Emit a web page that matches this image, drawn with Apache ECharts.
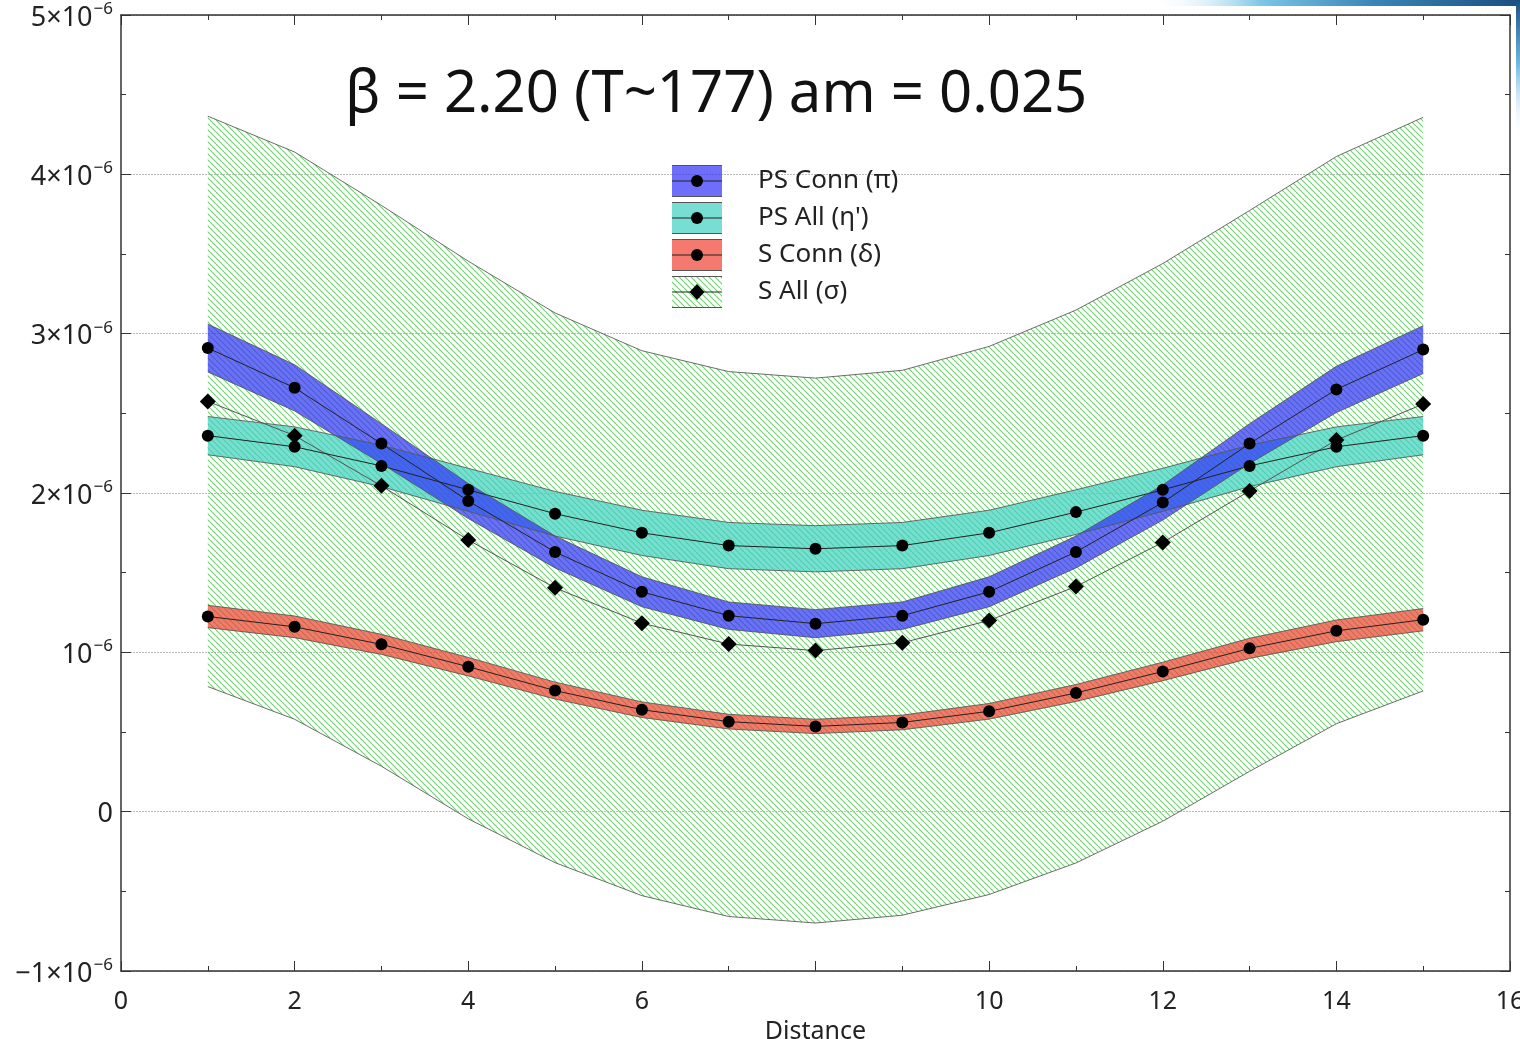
<!DOCTYPE html>
<html>
<head>
<meta charset="utf-8">
<script src="https://cdn.jsdelivr.net/npm/echarts@6/dist/echarts.min.js"></script>
<style>
  html, body { margin: 0; padding: 0; background: #fff; }
  #chart { width: 1520px; height: 1039px; }
</style>
</head>
<body>
<div id="chart"></div>
<script>
// Correlators vs. distance; y values in units of 10^-6
const distance = [1, 2, 3, 4, 5, 6, 7, 8, 9, 10, 11, 12, 13, 14, 15];

const psConn    = [2.91, 2.66, 2.31, 1.95, 1.63, 1.38, 1.23, 1.18, 1.23, 1.38, 1.63, 1.94, 2.31, 2.65, 2.90];
const psConnErr = [0.15, 0.145, 0.125, 0.11, 0.10, 0.094, 0.086, 0.088, 0.086, 0.094, 0.10, 0.11, 0.125, 0.145, 0.15];

const psAll     = [2.36, 2.29, 2.17, 2.02, 1.87, 1.75, 1.67, 1.65, 1.67, 1.75, 1.88, 2.02, 2.17, 2.29, 2.36];
const psAllErr  = [0.12, 0.125, 0.13, 0.135, 0.14, 0.142, 0.145, 0.145, 0.145, 0.142, 0.14, 0.135, 0.13, 0.125, 0.12];

const sConn     = [1.225, 1.16, 1.05, 0.91, 0.76, 0.64, 0.565, 0.535, 0.56, 0.63, 0.745, 0.88, 1.025, 1.135, 1.205];
const sConnErr  = [0.07, 0.068, 0.063, 0.058, 0.053, 0.049, 0.046, 0.045, 0.046, 0.049, 0.053, 0.058, 0.063, 0.068, 0.07];

const sAll      = [2.575, 2.36, 2.045, 1.705, 1.405, 1.183, 1.052, 1.011, 1.06, 1.2, 1.413, 1.69, 2.013, 2.332, 2.558];
const sAllErr   = [1.79, 1.78, 1.76, 1.75, 1.725, 1.71, 1.71, 1.71, 1.71, 1.72, 1.735, 1.75, 1.76, 1.78, 1.80];

const legendNames = ['PS Conn (\u03c0)', "PS All (\u03b7')", 'S Conn (\u03b4)', 'S All (\u03c3)'];
const xTicks = [0, 2, 4, 6, 10, 12, 14, 16];
const titleText = '\u03b2 = 2.20 (T~177) am = 0.025';

const FONT = '"Noto Sans", Lato, sans-serif';
const BLUE = 'rgba(48,48,248,0.7)';
const CYAN = 'rgba(62,208,194,0.7)';
const RED  = 'rgba(240,64,48,0.7)';

// diagonal green hatch tile
function hatchCanvas() {
  const s = 6;
  const c = document.createElement('canvas');
  c.width = s; c.height = s;
  const g = c.getContext('2d');
  g.strokeStyle = '#6cd06c';
  g.lineWidth = 1.05;
  for (const k of [-s, 0, s]) {
    g.beginPath();
    g.moveTo(k, 0);
    g.lineTo(k + s, s);
    g.stroke();
  }
  return c;
}
const hatch = hatchCanvas();
const hatchFill = { image: hatch, repeat: 'repeat' };

// legend key: band swatch with edge lines, centre line and marker
function swatch(fill, marker) {
  const w = 50, h = 32;
  const c = document.createElement('canvas');
  c.width = w; c.height = h;
  const g = c.getContext('2d');
  g.fillStyle = fill === 'hatch' ? g.createPattern(hatch, 'repeat') : fill;
  g.fillRect(0, 0, w, h);
  g.strokeStyle = '#555';
  g.lineWidth = 1;
  g.beginPath(); g.moveTo(0, 0.5); g.lineTo(w, 0.5); g.stroke();
  g.beginPath(); g.moveTo(0, h - 0.5); g.lineTo(w, h - 0.5); g.stroke();
  g.strokeStyle = '#222';
  g.beginPath(); g.moveTo(0, h / 2); g.lineTo(w, h / 2); g.stroke();
  g.fillStyle = '#000';
  g.beginPath();
  if (marker === 'diamond') {
    g.moveTo(w / 2, h / 2 - 8); g.lineTo(w / 2 + 7.5, h / 2);
    g.lineTo(w / 2, h / 2 + 8); g.lineTo(w / 2 - 7.5, h / 2);
    g.closePath();
  } else {
    g.arc(w / 2, h / 2, 6, 0, Math.PI * 2);
  }
  g.fill();
  return 'image://' + c.toDataURL();
}

const lower = (v, e) => v.map((y, i) => y - e[i]);
const upper = (v, e) => v.map((y, i) => y + e[i]);
const pairs = v => distance.map((x, i) => [x, v[i]]);

function bandFill(lo, hi, fill) {
  return {
    type: 'custom',
    silent: true,
    data: distance.map((x, i) => [x, lo[i], hi[i]]),
    encode: { x: 0, y: [1, 2] },
    renderItem: function (params, api) {
      if (params.dataIndex !== 0) return null;
      const pts = [];
      for (let i = 0; i < distance.length; i++) pts.push(api.coord([distance[i], hi[i]]));
      for (let i = distance.length - 1; i >= 0; i--) pts.push(api.coord([distance[i], lo[i]]));
      return { type: 'polygon', shape: { points: pts }, style: { fill: fill } };
    }
  };
}

function edgeLine(v) {
  return {
    type: 'line', silent: true, symbol: 'none', data: pairs(v),
    lineStyle: { color: '#555', width: 1, opacity: 0.85 }
  };
}

function centreLine(name, v, symbol, size, lineColor) {
  return {
    type: 'line', name: name, silent: true, data: pairs(v),
    symbol: symbol, symbolSize: size, showSymbol: true,
    itemStyle: { color: '#000', borderWidth: 0 },
    lineStyle: { color: lineColor, width: 1 }
  };
}

function band(name, v, e, fill, symbol, size, lineColor) {
  const lo = lower(v, e), hi = upper(v, e);
  return [
    bandFill(lo, hi, fill),
    edgeLine(lo),
    edgeLine(hi),
    centreLine(name, v, symbol, size, lineColor)
  ];
}

const series = [].concat(
  band(legendNames[3], sAll, sAllErr, hatchFill, 'diamond', 16, '#555'),
  band(legendNames[2], sConn, sConnErr, RED, 'circle', 12, '#222'),
  band(legendNames[1], psAll, psAllErr, CYAN, 'circle', 12, '#222'),
  band(legendNames[0], psConn, psConnErr, BLUE, 'circle', 12, '#222')
);

function yLabel(v) {
  const n = Math.round(v);
  if (n === 0) return '{b|0}';
  if (n === 1) return '{b|10}{s|\u22126}';
  return '{b|' + (n < 0 ? '\u2212' : '') + Math.abs(n) + '\u00d710}{s|\u22126}';
}

const axisLineStyle = { color: '#333', width: 1.5 };
const tickStyle = { color: '#333', width: 1 };

function frameAxis(extra) {
  return Object.assign({
    type: 'value',
    axisLine: { onZero: false, lineStyle: axisLineStyle },
    axisTick: { inside: true, length: 10, lineStyle: tickStyle },
    minorTick: { show: true, splitNumber: 2, length: 5, lineStyle: tickStyle },
    splitLine: { show: false },
    axisLabel: { show: false }
  }, extra);
}

const chart = echarts.init(document.getElementById('chart'), null, { renderer: 'canvas' });
chart.setOption({
  animation: false,
  backgroundColor: '#fff',
  textStyle: { fontFamily: FONT },
  grid: { left: 121, right: 10, top: 15, bottom: 68, containLabel: false, outerBoundsMode: 'none' },
  legend: {
    orient: 'vertical',
    left: 672, top: 165, padding: 0,
    itemWidth: 50, itemHeight: 32, itemGap: 5,
    selectedMode: false,
    textStyle: { fontFamily: FONT, fontSize: 26, color: '#222', padding: [0, 0, 0, 31] },
    data: [
      { name: legendNames[0], icon: swatch(BLUE, 'circle') },
      { name: legendNames[1], icon: swatch(CYAN, 'circle') },
      { name: legendNames[2], icon: swatch(RED, 'circle') },
      { name: legendNames[3], icon: swatch('hatch', 'diamond') }
    ]
  },
  xAxis: [
    frameAxis({
      min: 0, max: 16, interval: 2, position: 'bottom',
      name: 'Distance', nameLocation: 'middle', nameGap: 34,
      nameTextStyle: { fontFamily: FONT, fontSize: 25, color: '#222' },
      axisLabel: {
        show: true, margin: 18, fontFamily: FONT, fontSize: 25, color: '#222',
        formatter: v => (xTicks.indexOf(v) >= 0 ? String(v) : '')
      }
    }),
    frameAxis({ min: 0, max: 16, interval: 2, position: 'top' })
  ],
  yAxis: [
    frameAxis({
      min: -1, max: 5, interval: 1, position: 'left',
      splitLine: { show: true, lineStyle: { color: '#bbb', width: 1, type: [2, 1] } },
      axisLabel: {
        show: true, margin: 8, formatter: yLabel,
        rich: {
          b: { fontFamily: FONT, fontSize: 27, color: '#222', padding: [6, 0, 0, 0] },
          s: { fontFamily: FONT, fontSize: 17, color: '#222', padding: [0, 0, 12, 1] }
        }
      }
    }),
    frameAxis({ min: -1, max: 5, interval: 1, position: 'right' })
  ],
  graphic: [
    {
      type: 'text', left: 345, top: 66, silent: true,
      style: { text: titleText, font: '58px ' + FONT, fill: '#111' }
    },
    {
      type: 'rect', silent: true, shape: { x: 1150, y: 0, width: 370, height: 6 },
      style: {
        fill: new echarts.graphic.LinearGradient(0, 0, 1, 0, [
          { offset: 0, color: 'rgba(255,255,255,0)' },
          { offset: 0.3, color: '#7cc6e6' },
          { offset: 0.6, color: '#3a86b8' },
          { offset: 1, color: '#1c4e80' }
        ])
      }
    },
    {
      type: 'rect', silent: true, shape: { x: 1516, y: 0, width: 4, height: 140 },
      style: {
        fill: new echarts.graphic.LinearGradient(0, 0, 0, 1, [
          { offset: 0, color: '#1c4e80' },
          { offset: 0.45, color: '#6cb8e0' },
          { offset: 1, color: 'rgba(255,255,255,0)' }
        ])
      }
    }
  ],
  series: series
});
</script>
</body>
</html>
